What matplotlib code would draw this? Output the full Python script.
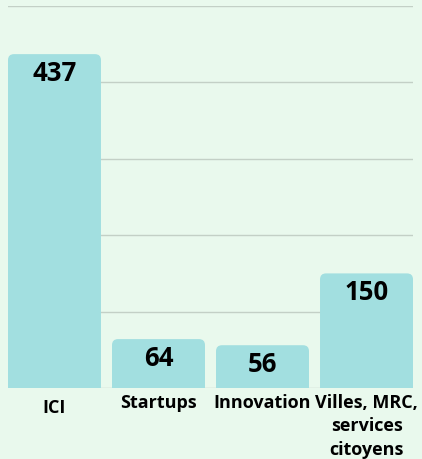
import matplotlib
matplotlib.use("Agg")
import matplotlib.pyplot as plt
import matplotlib.transforms as mtransforms
from matplotlib.patches import FancyBboxPatch
import numpy as np

categories = ["ICI", "Startups", "Innovation", "Villes, MRC,\nservices\ncitoyens"]
values = [437, 64, 56, 150]

BG = "#e9f9ed"
BAR = "#a2dfe0"
GRID = "#c3d0c6"
FONT = ["Open Sans", "DejaVu Sans"]

fig = plt.figure(figsize=(4.22, 4.60), dpi=100, facecolor=BG)
ax = fig.add_axes([8 / 422, 71 / 460, 405 / 422, 382 / 460], facecolor=BG)

x = np.arange(len(values))
bars = ax.bar(x, values, width=0.894, color=BAR, zorder=2)

ax.set_xlim(-0.447, 3.447)
ax.set_ylim(0, 500)

# swap the square bars for ones with rounded top corners
px_x = 405 / (3.447 + 0.447)
px_y = 382 / 500
for b in bars:
    r = 6 / px_x
    patch = FancyBboxPatch((b.get_x(), -20), b.get_width(), b.get_height() + 20,
                           boxstyle=f"round,pad=0,rounding_size={r}",
                           mutation_aspect=px_x / px_y,
                           facecolor=BAR, edgecolor="none", zorder=2)
    ax.add_patch(patch)
    b.set_visible(False)

for xi, v in zip(x, values):
    ax.annotate(str(v), (xi, v), xytext=(0, -13), textcoords="offset points",
                ha="center", va="center", fontsize=18.5, fontweight="bold",
                family=FONT, color="black", zorder=3)

ax.set_yticks(np.arange(0, 501, 100))
ax.yaxis.grid(True, color=GRID, linewidth=1, zorder=1)
ax.tick_params(axis="y", left=False, labelleft=False)
ax.tick_params(axis="x", length=0, pad=3.5)
ax.set_xticks(x)
ax.set_xticklabels(categories, fontsize=13, fontweight="bold", family=FONT,
                   linespacing=1.38, va="top")
# the single-line "ICI" label sits a little lower in the original
lbl = ax.get_xticklabels()[0]
lbl.set_transform(lbl.get_transform() + mtransforms.ScaledTranslation(0, -5 / 100, fig.dpi_scale_trans))
for s in ax.spines.values():
    s.set_visible(False)

fig.savefig("out.png", dpi=100, facecolor=BG)
